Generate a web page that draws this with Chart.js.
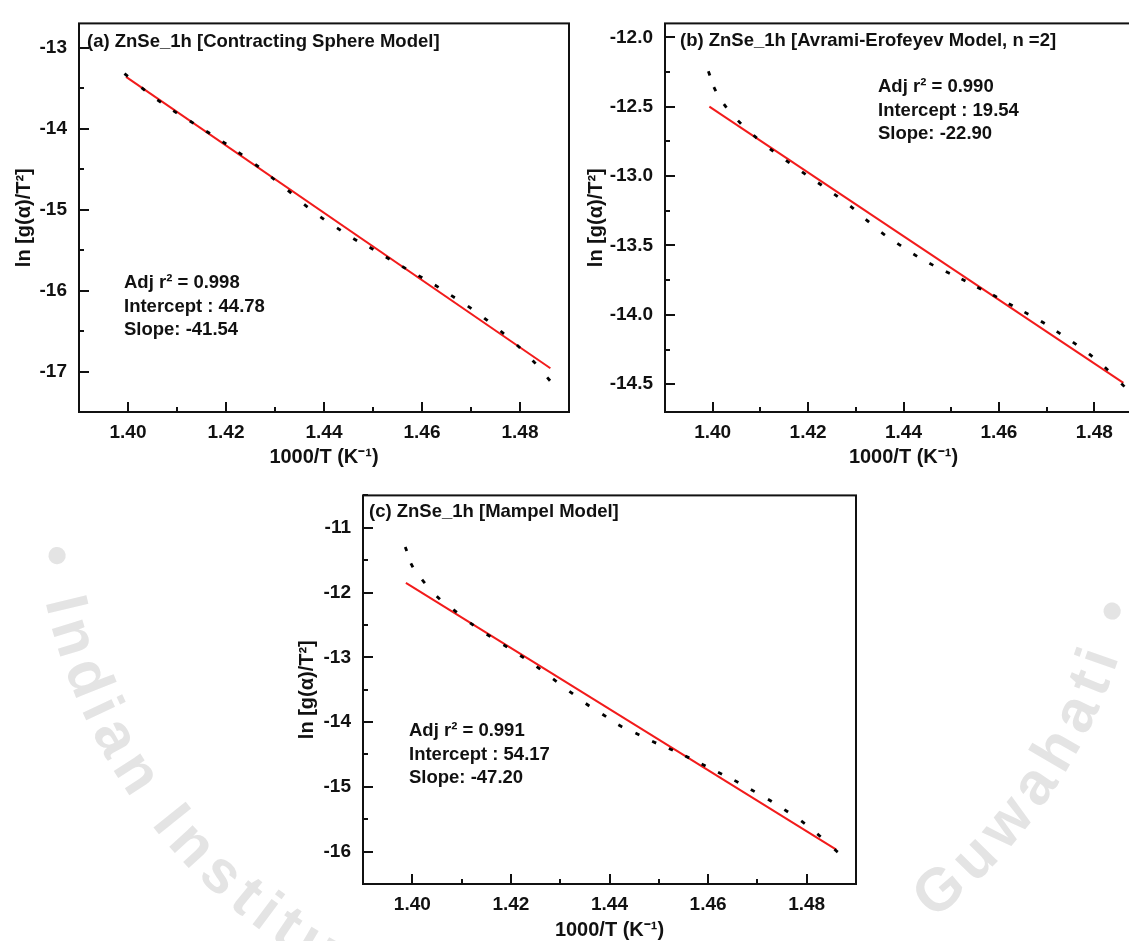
<!DOCTYPE html>
<html>
<head>
<meta charset="utf-8">
<script src="https://cdn.jsdelivr.net/npm/chart.js@4.4.1/dist/chart.umd.min.js"></script>
<style>
  html, body { margin: 0; padding: 0; background: #fff; }
  body { width: 1129px; height: 941px; overflow: hidden; position: relative; }
  canvas { position: absolute; }
</style>
</head>
<body>
<canvas id="bg" width="1129" height="941" style="left:0;top:0"></canvas>
<canvas id="chartA" width="581" height="470" style="left:0px;top:0px"></canvas>
<canvas id="chartB" width="574" height="470" style="left:580px;top:0px"></canvas>
<canvas id="chartC" width="585" height="470" style="left:283px;top:472px"></canvas>
<script>
// (a) Contracting sphere model
const xA = [1.39963, 1.40311, 1.40636, 1.40961, 1.41301, 1.41634, 1.41967, 1.42292, 1.42632,
  1.42957, 1.43298, 1.43630, 1.43963, 1.44303, 1.44636, 1.44969, 1.45301, 1.45634, 1.45967,
  1.46300, 1.46632, 1.46972, 1.47305, 1.47638, 1.47970, 1.48288, 1.48584];
const yA = [-13.338, -13.511, -13.660, -13.793, -13.920, -14.046, -14.175, -14.308, -14.457,
  -14.614, -14.779, -14.952, -15.105, -15.241, -15.370, -15.479, -15.600, -15.716, -15.829,
  -15.946, -16.074, -16.207, -16.356, -16.517, -16.690, -16.883, -17.093];
const fitXA = [1.3996, 1.4862];
const fitYA = [-13.36, -16.96];

// (b) Avrami-Erofeyev model, n = 2
const xB = [1.39925, 1.40045, 1.40262, 1.40562, 1.40891, 1.41236, 1.41573, 1.41910, 1.42247,
  1.42584, 1.42921, 1.43243, 1.43573, 1.43910, 1.44247, 1.44584, 1.44929, 1.45258, 1.45588,
  1.45918, 1.46247, 1.46577, 1.46921, 1.47251, 1.47588, 1.47925, 1.48255, 1.48599];
const yB = [-12.260, -12.374, -12.494, -12.612, -12.716, -12.813, -12.896, -12.979, -13.057,
  -13.139, -13.227, -13.322, -13.416, -13.494, -13.570, -13.636, -13.695, -13.749, -13.809,
  -13.865, -13.927, -13.988, -14.054, -14.128, -14.206, -14.291, -14.388, -14.506];
const fitXB = [1.3993, 1.4861];
const fitYB = [-12.50, -14.49];

// (c) Mampel model
const xC = [1.39872, 1.39992, 1.40226, 1.40528, 1.40868, 1.41208, 1.41547, 1.41887, 1.42226,
  1.42558, 1.42891, 1.43223, 1.43555, 1.43894, 1.44219, 1.44566, 1.44906, 1.45245, 1.45577,
  1.45909, 1.46242, 1.46574, 1.46906, 1.47253, 1.47585, 1.47925, 1.48249, 1.48596];
const yC = [-11.328, -11.580, -11.827, -12.079, -12.285, -12.487, -12.663, -12.825, -12.991,
  -13.162, -13.354, -13.545, -13.732, -13.898, -14.059, -14.185, -14.311, -14.422, -14.538,
  -14.664, -14.790, -14.916, -15.057, -15.208, -15.370, -15.546, -15.748, -15.985];
const fitXC = [1.3987, 1.4860];
const fitYC = [-11.85, -15.97];

// axis ranges [min, max]
const xRange = [1.39, 1.49];
const yRangeA = [-17.5, -12.7];
const yRangeB = [-14.7, -11.9];
const yRangeC = [-16.5, -10.5];

// texts
const xTitle = '1000/T (K\u207B\u00B9)';
const yTitle = 'ln [g(\u03B1)/T\u00B2]';
const titleA = '(a) ZnSe_1h [Contracting Sphere Model]';
const titleB = '(b) ZnSe_1h [Avrami-Erofeyev Model, n =2]';
const titleC = '(c) ZnSe_1h [Mampel Model]';
const statsA = ['Adj r\u00B2 = 0.998', 'Intercept : 44.78', 'Slope: -41.54'];
const statsB = ['Adj r\u00B2 = 0.990', 'Intercept : 19.54', 'Slope: -22.90'];
const statsC = ['Adj r\u00B2 = 0.991', 'Intercept : 54.17', 'Slope: -47.20'];
const sealLeft = '\u2022 Indian Institute of';
const sealRight = 'Guwahati \u2022';

const family = '"Liberation Sans", Arial, Helvetica, sans-serif';

// faint seal text behind the figure
function drawWatermark() {
  const c = document.getElementById('bg').getContext('2d');
  const cx = 590, cy = 480, r = 558;
  c.fillStyle = '#e4e4e4';
  c.font = 'bold 60px ' + family;
  c.textAlign = 'center';
  c.textBaseline = 'alphabetic';
  const arcText = (text, startDeg, gap) => {
    let th = startDeg * Math.PI / 180;
    for (const ch of text) {
      const w = c.measureText(ch).width;
      th -= (w / 2) / r;
      c.save();
      c.translate(cx + r * Math.cos(th), cy + r * Math.sin(th));
      c.rotate(th - Math.PI / 2);
      c.fillText(ch, 0, 0);
      c.restore();
      th -= (w / 2 + gap) / r;
    }
  };
  arcText(sealLeft, 173, 8);
  arcText(sealRight, 52, 8);
}

// orient each dot along the curve, like a dotted line
const dashAngle = (ctx) => {
  const d = ctx.dataset.data;
  const i = ctx.dataIndex;
  if (i === undefined) return 0;
  const a = d[Math.max(i - 1, 0)], b = d[Math.min(i + 1, d.length - 1)];
  const sx = ctx.chart.scales.x, sy = ctx.chart.scales.y;
  const dx = sx.getPixelForValue(b.x) - sx.getPixelForValue(a.x);
  const dy = sy.getPixelForValue(b.y) - sy.getPixelForValue(a.y);
  return Math.atan2(dy, dx) * 180 / Math.PI;
};

const toXY = (xs, ys) => xs.map((x, i) => ({ x: x, y: ys[i] }));

function buildChart(id, p) {
  // box, inward ticks and the in-plot texts
  const frame = {
    id: 'frame',
    afterDatasetsDraw(chart) {
      const { ctx, chartArea: a, scales } = chart;
      ctx.save();
      ctx.strokeStyle = '#111';
      ctx.lineWidth = 2;
      ctx.beginPath();
      scales.x.ticks.forEach((t) => {
        const px = Math.round(scales.x.getPixelForValue(t.value));
        const len = t.label ? 10 : 5;
        ctx.moveTo(px, a.bottom);
        ctx.lineTo(px, a.bottom - len);
      });
      scales.y.ticks.forEach((t) => {
        const py = Math.round(scales.y.getPixelForValue(t.value));
        const len = t.label ? 10 : 5;
        ctx.moveTo(a.left, py);
        ctx.lineTo(a.left + len, py);
      });
      ctx.stroke();
      ctx.strokeRect(a.left, a.top, a.right - a.left, a.bottom - a.top);

      ctx.fillStyle = '#111';
      ctx.font = 'bold 18.5px ' + family;
      ctx.textAlign = 'left';
      ctx.textBaseline = 'middle';
      ctx.fillText(p.title, a.left + p.titleDx, a.top + p.titleDy);
      p.stats.forEach((s, i) => {
        ctx.fillText(s, a.left + p.statDx, a.top + p.statDy + i * 23.3);
      });
      ctx.restore();
    }
  };

  return new Chart(document.getElementById(id), {
    type: 'scatter',
    data: {
      datasets: [
        {
          data: toXY(p.x, p.y),
          showLine: false,
          pointStyle: 'line',
          pointRadius: 2.2,
          pointHoverRadius: 2.2,
          pointBorderWidth: 2.8,
          pointBorderColor: '#000',
          pointBackgroundColor: '#000',
          pointRotation: dashAngle
        },
        {
          data: toXY(p.fitX, p.fitY),
          showLine: true,
          borderColor: '#f21b1b',
          borderWidth: 2,
          pointRadius: 0,
          fill: false
        }
      ]
    },
    options: {
      responsive: false,
      animation: false,
      events: [],
      layout: { padding: { left: 0, top: p.padTop, right: 12, bottom: 0 } },
      plugins: { legend: { display: false }, tooltip: { enabled: false } },
      scales: {
        x: {
          type: 'linear',
          min: xRange[0],
          max: xRange[1],
          grid: { display: false, drawTicks: false },
          border: { display: false },
          ticks: {
            stepSize: 0.01,
            includeBounds: false,
            autoSkip: false,
            maxRotation: 0,
            padding: 9,
            color: '#111',
            font: { family: family, size: 19, weight: 'bold' },
            callback: (v) => (Math.round(v * 100) % 2 === 0 ? v.toFixed(2) : '')
          },
          title: {
            display: true,
            text: xTitle,
            color: '#111',
            font: { family: family, size: 20, weight: 'bold' },
            padding: { top: 0, bottom: p.xTitlePad }
          },
          afterFit: (s) => { s.height = 58; }
        },
        y: {
          type: 'linear',
          min: p.yRange[0],
          max: p.yRange[1],
          grid: { display: false, drawTicks: false },
          border: { display: false },
          ticks: {
            stepSize: p.yMinor,
            includeBounds: false,
            autoSkip: false,
            padding: 12,
            color: '#111',
            font: { family: family, size: 19, weight: 'bold' },
            callback: (v) => {
              const k = v / p.yMajor;
              return Math.abs(k - Math.round(k)) < 1e-6 ? v.toFixed(p.yDec) : '';
            }
          },
          title: {
            display: true,
            text: yTitle,
            color: '#111',
            font: { family: family, size: 20, weight: 'bold' },
            padding: { top: p.yTitlePad, bottom: 0 }
          },
          afterFit: (s) => { s.width = p.yAxisW; }
        }
      }
    },
    plugins: [frame]
  });
}

drawWatermark();

buildChart('chartA', {
  x: xA, y: yA, fitX: fitXA, fitY: fitYA, yRange: yRangeA,
  yMinor: 0.5, yMajor: 1, yDec: 0,
  yAxisW: 79, padTop: 15, yTitlePad: 12, xTitlePad: 1,
  title: titleA, titleDx: 8, titleDy: 19,
  stats: statsA, statDx: 45, statDy: 260
});

buildChart('chartB', {
  x: xB, y: yB, fitX: fitXB, fitY: fitYB, yRange: yRangeB,
  yMinor: 0.25, yMajor: 0.5, yDec: 1,
  yAxisW: 85, padTop: 16, yTitlePad: 4, xTitlePad: 1,
  title: titleB, titleDx: 15, titleDy: 18,
  stats: statsB, statDx: 213, statDy: 64
});

buildChart('chartC', {
  x: xC, y: yC, fitX: fitXC, fitY: fitYC, yRange: yRangeC,
  yMinor: 0.5, yMajor: 1, yDec: 0,
  yAxisW: 80, padTop: 15, yTitlePad: 12, xTitlePad: 0,
  title: titleC, titleDx: 6, titleDy: 17,
  stats: statsC, statDx: 46, statDy: 236
});
</script>
</body>
</html>
